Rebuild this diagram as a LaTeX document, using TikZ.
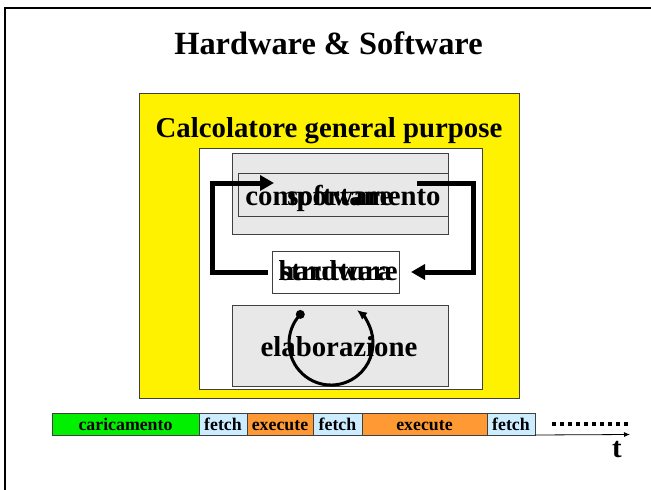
\documentclass[tikz,border=0pt]{standalone}
\usepackage{fontspec}
\setmainfont{Liberation Serif}
\usetikzlibrary{arrows.meta}
\definecolor{boxgray}{HTML}{E8E8E8}
\definecolor{edgegray}{HTML}{404040}
\definecolor{loadgreen}{HTML}{00F000}
\definecolor{fetchblue}{HTML}{CCECFF}
\definecolor{execorange}{HTML}{FF9933}
\begin{document}
\begin{tikzpicture}[x=1pt,y=-1pt,
  panel/.style={draw=edgegray, line width=0.8pt, anchor=north west, inner sep=0pt, outer sep=0pt},
  bigtext/.style={font=\fontsize{28.8}{32}\selectfont\bfseries, anchor=base, inner sep=0pt},
  seg/.style={draw=edgegray, line width=0.8pt, minimum height=22pt, anchor=west, inner sep=0pt, outer sep=0pt,
              text height=14.5pt, text depth=1.5pt,
              font=\fontsize{17.8}{19}\selectfont\bfseries},
  loop/.style={line width=5pt, line join=miter, -{Triangle[length=14pt,width=15pt]}},
  cycle/.style={line width=3pt, -{Latex[length=10pt,width=9pt]}}
]
\useasboundingbox (0,0) rectangle (651,490);

% slide frame (top and left edges)
\draw[line width=2.6pt] (5,490) -- (5,8) -- (651,8);

% title
\node[font=\fontsize{32.4}{36}\selectfont\bfseries, anchor=base, inner sep=0pt] (title) at (328.5,54) {Hardware \& Software};

% computer panel
\node[panel, fill=yellow, minimum width=380pt, minimum height=305pt] (cgp) at (139,93) {};
\node[bigtext] (cgplabel) at (329,137) {Calcolatore general purpose};
\node[panel, fill=white, minimum width=283pt, minimum height=241pt] (inner) at (199,148) {};

% software / behaviour
\node[panel, fill=boxgray, minimum width=216pt, minimum height=81pt] (sw) at (232,153) {};
\node[panel, fill=boxgray, minimum width=210pt, minimum height=43pt] (cmp) at (238,173) {};
\node[bigtext] (cmptext) at (343,205) {comportamento};
\node[bigtext] (swtext) at (340,205) {software};

% hardware / structure
\node[panel, fill=white, minimum width=127pt, minimum height=42pt] (hw) at (272,251) {};
\node[bigtext] (hwtext) at (338,280) {hardware};
\node[bigtext] (sttext) at (336,280) {struttura};

% processing
\node[panel, fill=boxgray, minimum width=216pt, minimum height=81pt] (elab) at (232,305) {};
\node[bigtext] (elabtext) at (339,356) {elaborazione};

% feedback loop between software and hardware
\coordinate (lcornerb) at (212,272);
\coordinate (lcornert) at (212,183);
\coordinate (swin) at (274,183);
\coordinate (swout) at (417,183);
\coordinate (rcornert) at (473,183);
\coordinate (rcornerb) at (473,272);
\coordinate (hwin) at (411,272);
\draw[loop] ([xshift=-4pt]hw.west) -- (lcornerb) -- (lcornert) -- (swin);
\draw[loop] (swout) -- (rcornert) -- (rcornerb) -- (hwin);

% execution cycle
\coordinate (cycstart) at (300.3,314.4);
\draw[cycle] (cycstart) arc[start angle=223, end angle=-52, radius=42];
\fill (cycstart) circle[radius=4.5];

% timeline
\node[seg, fill=loadgreen, minimum width=147pt] (t1) at (52,424) {caricamento};
\node[seg, fill=fetchblue, minimum width=48pt] (t2) at (t1.east) {fetch};
\node[seg, fill=execorange, minimum width=66pt] (t3) at (t2.east) {execute};
\node[seg, fill=fetchblue, minimum width=49pt] (t4) at (t3.east) {fetch};
\node[seg, fill=execorange, minimum width=125pt] (t5) at (t4.east) {execute};
\node[seg, fill=fetchblue, minimum width=48pt] (t6) at (t5.east) {fetch};

\coordinate (dotsa) at (552,424);
\coordinate (dotsb) at (628,424);
\draw[line width=3.5pt, dash pattern=on 4pt off 4pt] (dotsa) -- (dotsb);

\coordinate (tend) at (630,434.5);
\draw[line width=0.8pt, -{Latex[length=6pt,width=5pt]}] (t6.south east) -- (tend);
\node[bigtext] (tlabel) at (617,457) {t};
\end{tikzpicture}
\end{document}
